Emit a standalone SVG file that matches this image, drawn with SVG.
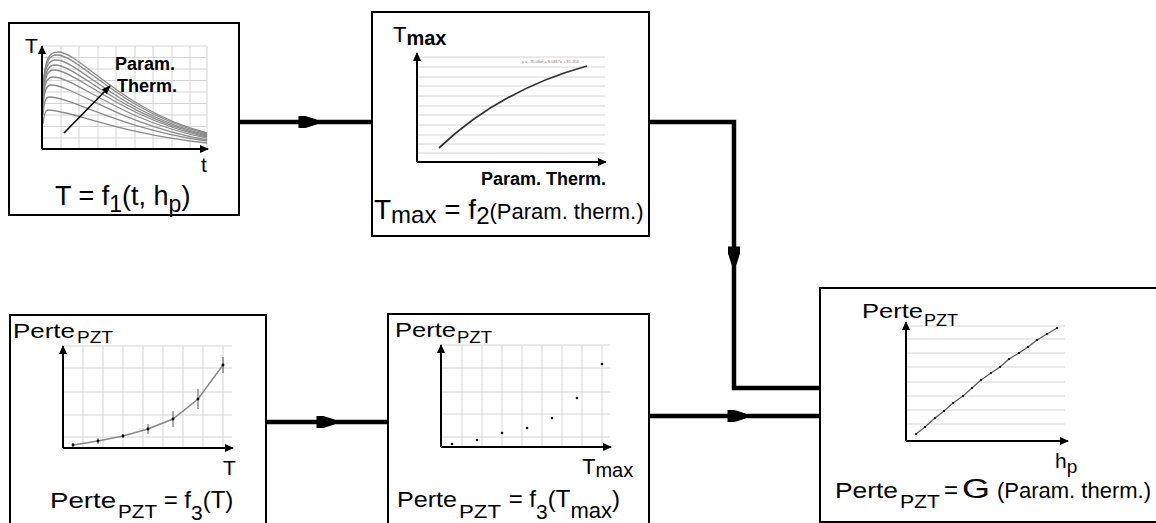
<svg xmlns="http://www.w3.org/2000/svg" width="1156" height="523" viewBox="0 0 1156 523">
<style>
text{font-family:"Liberation Sans",Arial,sans-serif;fill:#000}
.box{fill:#fff;stroke:#000;stroke-width:2}
.axis{fill:none;stroke:#000;stroke-width:2;marker-end:url(#ax)}
.grid{fill:none;stroke:#d4d4d4;stroke-width:1}
.conn{fill:none;stroke:#000;stroke-width:4.5}
.curve{fill:none;stroke:#8a8a8a;stroke-width:1.3}
.b{font-weight:bold}
</style>
<defs>
<marker id="ax" markerUnits="userSpaceOnUse" markerWidth="9" markerHeight="8" viewBox="0 -4 9 8" refX="8" refY="0" orient="auto"><path d="M0,-4 L9,0 L0,4 z" fill="#000"/></marker>
<marker id="ax2" markerUnits="userSpaceOnUse" markerWidth="9" markerHeight="8" viewBox="0 -4 9 8" refX="8" refY="0" orient="auto"><path d="M0,-3.5 L9,0 L0,3.5 z" fill="#000"/></marker>
<marker id="flow" markerUnits="userSpaceOnUse" markerWidth="20" markerHeight="14" viewBox="-10 -7 20 14" refX="0" refY="0" orient="auto"><path d="M-9,-6 L-2,-6 L9,-2.5 L9,2.5 L-2,6 L-9,6 z" fill="#000"/></marker>
</defs>
<rect width="1156" height="523" fill="#fff"/>

<g id="connectors">
<path class="conn" d="M239,122 H307.5" marker-end="url(#flow)"/>
<path class="conn" d="M307.5,122 H372"/>
<path class="conn" d="M649,122 H734 V255.5" marker-end="url(#flow)"/>
<path class="conn" d="M734,255.5 V388 H820"/>
<path class="conn" d="M266,422 H325.5" marker-end="url(#flow)"/>
<path class="conn" d="M325.5,422 H388"/>
<path class="conn" d="M649,416 H736.5" marker-end="url(#flow)"/>
<path class="conn" d="M736.5,416 H820"/>
</g>

<g id="node1">
<rect class="box" x="9" y="23" width="230" height="192"/>
<path class="grid" d="M61,46V149M79,46V149M98,46V149M116,46V149M135,46V149M153,46V149M172,46V149M190,46V149M207,46V149M42,46H207M42,57.5H207M42,69H207M42,80.5H207M42,92H207M42,103.5H207M42,115H207M42,126.5H207M42,138H207"/>
<path class="curve" d="M43,86 C45,56 50,52 58,52 C80,52 120,110 207,133"/>
<path class="curve" d="M43,88 C45,59 50,55 57,55 C79,55 120,112 207,134"/>
<path class="curve" d="M43,91 C45,64 49,60 56,60 C78,60 120,114 207,135"/>
<path class="curve" d="M43,94 C45,69 49,65 55,65 C77,65 120,116 207,136"/>
<path class="curve" d="M43,98 C45,74 48,70 54,70 C76,70 120,118 207,137"/>
<path class="curve" d="M43,102 C44,81 48,77 53,77 C75,77 120,121 207,138"/>
<path class="curve" d="M43,107 C44,89 47,85 51,85 C73,85 120,125 207,140"/>
<path class="curve" d="M43,115 C44,100 46,97 49,97 C71,97 120,129 207,141"/>
<path class="curve" d="M43,124 C44,113 46,110 48,110 C70,110 120,134 207,143"/>
<path class="axis" d="M42,149 V46"/>
<path class="axis" d="M42,149 H208"/>
<path d="M64,133 L110,86" fill="none" stroke="#000" stroke-width="1.6" marker-end="url(#ax2)"/>
<text x="25" y="53" font-size="21">T</text>
<text class="b" x="115" y="70" font-size="18">Param.</text>
<text class="b" x="117" y="92" font-size="18">Therm.</text>
<text x="201" y="172" font-size="21">t</text>
<text x="55" y="205" font-size="27">T = f<tspan dy="7" font-size="23">1</tspan><tspan dy="-7">(t, h</tspan><tspan dy="7" font-size="23">p</tspan><tspan dy="-7">)</tspan></text>
</g>

<g id="node2">
<rect class="box" x="372" y="12" width="277" height="224"/>
<path class="grid" d="M417,57H605M417,67H605M417,77H605M417,86H605M417,96H605M417,106H605M417,115H605M417,125H605M417,135H605M417,144H605M417,153H605"/>
<path d="M439,148 Q500,90 587,66" fill="none" stroke="#333" stroke-width="1.8"/>
<text x="522" y="63" font-size="4" style="fill:#777">y = -70.06x² + 3.0467x + 65.204</text>
<path class="axis" d="M417,162 V53"/>
<path class="axis" d="M417,162 H606"/>
<text x="393" y="42" font-size="22">T<tspan class="b" font-size="20" dy="3">max</tspan></text>
<text class="b" x="481" y="185" font-size="18">Param. Therm.</text>
<text x="374" y="219" font-size="28">T<tspan font-size="24" dy="4">max</tspan><tspan dy="-4"> = f</tspan><tspan font-size="24" dy="5">2</tspan><tspan font-size="22" dy="-5">(Param. therm.)</tspan></text>
</g>

<g id="node3">
<rect class="box" x="10" y="315" width="256" height="215"/>
<path class="grid" d="M83,346V448M103,346V448M123,346V448M143,346V448M163,346V448M183,346V448M203,346V448M223,346V448M63,346H232M63,368H232M63,392H232M63,415H232M63,437H232"/>
<path d="M73,445 L98,441 L123,436 L148,429 L173,419 L198,399 L223,365" fill="none" stroke="#888" stroke-width="1.5"/>
<path d="M73,443V447M98,438V444M123,434V438M148,424V434M173,411V427M198,389V409M223,357V373" fill="none" stroke="#555" stroke-width="1"/>
<g fill="#000"><circle cx="73" cy="445" r="1.4"/><circle cx="98" cy="441" r="1.4"/><circle cx="123" cy="436" r="1.4"/><circle cx="148" cy="429" r="1.4"/><circle cx="173" cy="419" r="1.4"/><circle cx="198" cy="399" r="1.4"/><circle cx="223" cy="365" r="1.4"/></g>
<path class="axis" d="M63,448 V346"/>
<path class="axis" d="M63,448 H233"/>
<text y="338" font-size="21"><tspan x="13" textLength="62" lengthAdjust="spacingAndGlyphs">Perte</tspan><tspan x="77" dy="5" font-size="17" textLength="36" lengthAdjust="spacingAndGlyphs">PZT</tspan></text>
<text x="223" y="475" font-size="21">T</text>
<text y="508" font-size="24"><tspan x="50" font-size="22" textLength="66" lengthAdjust="spacingAndGlyphs">Perte</tspan><tspan x="118" dy="10" font-size="19" textLength="39" lengthAdjust="spacingAndGlyphs">PZT</tspan><tspan x="157" dy="-10"> = f</tspan><tspan dy="12" font-size="21">3</tspan><tspan dy="-12">(T)</tspan></text>
</g>

<g id="node4">
<rect class="box" x="388" y="314" width="261" height="215"/>
<path class="grid" d="M462,345V447M482,345V447M502,345V447M522,345V447M542,345V447M562,345V447M582,345V447M602,345V447M441,345H610M441,368H610M441,392H610M441,414H610M441,437H610"/>
<g fill="#000"><circle cx="452" cy="444" r="1.3"/><circle cx="477" cy="440" r="1.3"/><circle cx="502" cy="433" r="1.3"/><circle cx="527" cy="428" r="1.3"/><circle cx="552" cy="418" r="1.3"/><circle cx="577" cy="398" r="1.3"/><circle cx="602" cy="364" r="1.3"/></g>
<path class="axis" d="M441,447 V345"/>
<path class="axis" d="M441,447 H611"/>
<text y="337" font-size="21"><tspan x="395" textLength="61" lengthAdjust="spacingAndGlyphs">Perte</tspan><tspan x="457" dy="6" font-size="17" textLength="35" lengthAdjust="spacingAndGlyphs">PZT</tspan></text>
<text x="582" y="474" font-size="22">T<tspan dy="3" font-size="20">max</tspan></text>
<text y="507" font-size="24"><tspan x="397" font-size="22" textLength="60" lengthAdjust="spacingAndGlyphs">Perte</tspan><tspan x="459" dy="11" font-size="19" textLength="42" lengthAdjust="spacingAndGlyphs">PZT</tspan><tspan x="502" dy="-11"> = f</tspan><tspan dy="12" font-size="21">3</tspan><tspan dy="-12">(T</tspan><tspan dy="11" font-size="22">max</tspan><tspan dy="-11">)</tspan></text>
</g>

<g id="node5">
<rect class="box" x="820" y="288" width="340" height="234"/>
<path class="grid" d="M906,326H1065M906,339H1065M906,353H1065M906,367H1065M906,382H1065M906,396H1065M906,410H1065M906,424H1065"/>
<path d="M916,434 L925,427 L935,418 L944,411 L953,403 L963,396 L972,388 L981,380 L991,373 L1000,367 L1009,359 L1019,353 L1028,347 L1037,340 L1047,334 L1057,328" fill="none" stroke="#555" stroke-width="1.2"/>
<g fill="#000"><circle cx="916" cy="434" r="1.1"/><circle cx="925" cy="427" r="1.1"/><circle cx="935" cy="418" r="1.1"/><circle cx="944" cy="411" r="1.1"/><circle cx="953" cy="403" r="1.1"/><circle cx="963" cy="396" r="1.1"/><circle cx="972" cy="388" r="1.1"/><circle cx="981" cy="380" r="1.1"/><circle cx="991" cy="373" r="1.1"/><circle cx="1000" cy="367" r="1.1"/><circle cx="1009" cy="359" r="1.1"/><circle cx="1019" cy="353" r="1.1"/><circle cx="1028" cy="347" r="1.1"/><circle cx="1037" cy="340" r="1.1"/><circle cx="1047" cy="334" r="1.1"/><circle cx="1057" cy="328" r="1.1"/></g>
<path class="axis" d="M906,441 V322"/>
<path class="axis" d="M906,441 H1068"/>
<text y="318" font-size="21"><tspan x="862" textLength="61" lengthAdjust="spacingAndGlyphs">Perte</tspan><tspan x="924" dy="8" font-size="17" textLength="34" lengthAdjust="spacingAndGlyphs">PZT</tspan></text>
<text x="1055" y="468" font-size="21">h<tspan dy="5" font-size="19">p</tspan></text>
<text y="498" font-size="24"><tspan x="835" font-size="22" textLength="63" lengthAdjust="spacingAndGlyphs">Perte</tspan><tspan x="900" dy="10" font-size="19" textLength="40" lengthAdjust="spacingAndGlyphs">PZT</tspan><tspan x="944" dy="-10">=</tspan><tspan x="962" font-size="27" textLength="28" lengthAdjust="spacingAndGlyphs">G</tspan><tspan x="997" font-size="22">(Param. therm.)</tspan></text>
</g>
</svg>
